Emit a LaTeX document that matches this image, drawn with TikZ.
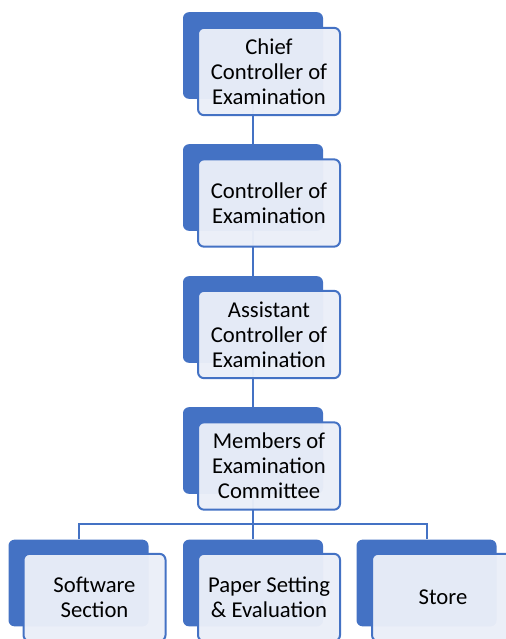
\documentclass[tikz,border=0pt]{standalone}
\usepackage{fontspec}
\setmainfont{Carlito}
\usepackage{tikz}
\usetikzlibrary{positioning}
\definecolor{chart}{HTML}{4472C4}
\definecolor{chartlight}{HTML}{EAEEF8}
\tikzset{
    %Define style for the dark boxes behind
    backbox/.style={
   	rectangle,
   	rounded corners=4.5pt,
   	fill=chart,
   	draw=none,
   	minimum width=105pt,
   	minimum height=65pt,
   	inner sep=0pt
   },
    %Define style for the boxes in front
    frontbox/.style={
   	rectangle,
   	rounded corners=4.5pt,
   	draw=chart, line width=1.5pt,
   	fill=chartlight, fill opacity=0.97, text opacity=1,
   	minimum width=106.5pt,
   	minimum height=65.5pt,
   	inner sep=0pt,
   	font=\fontsize{17}{18.6}\selectfont,
   	align=center
   },
    % Define connector style
    link/.style={
           draw=chart,
           line width=1.5pt}
}

\begin{document}
\begin{tikzpicture}[x=0.75pt,y=-0.75pt]
		\clip (0,0) rectangle (506,639);
		% boxes behind
		\node[backbox] (b1) at (253,55.5) {};
		\node[backbox] (b2) at (253,187.5) {};
		\node[backbox] (b3) at (253,319.5) {};
		\node[backbox] (b4) at (253,450.5) {};
		\node[backbox] (b5) at (78.5,583) {};
		\node[backbox] (b6) at (253,583) {};
		\node[backbox] (b7) at (426.5,583) {};
		\coordinate (hub) at (253,524);
		% connectors
		\path[link]
		(b1.south) edge (b2.north)
		(b2.south) edge (b3.north)
		(b3.south) edge (b4.north)
		(b4.south) edge (hub)
		(hub) edge (b6.north);
		\draw[link] (b5.north) |- (hub) -| (b7.north);
		% boxes in front
		\node[frontbox] (f1) at (269,71.5) {Chief\\Controller of\\Examination};
		\node[frontbox] (f2) at (269,203) {Controller of\\Examination};
		\node[frontbox] (f3) at (269,334.5) {Assistant\\Controller of\\Examination};
		\node[frontbox] (f4) at (269,466) {Members of\\Examination\\Committee};
		\node[frontbox] (f5) at (94.5,597.5) {Software\\Section};
		\node[frontbox] (f6) at (269,597.5) {Paper Setting\\\& Evaluation};
		\node[frontbox] (f7) at (443,597.5) {Store};
		\end{tikzpicture}
\end{document}
